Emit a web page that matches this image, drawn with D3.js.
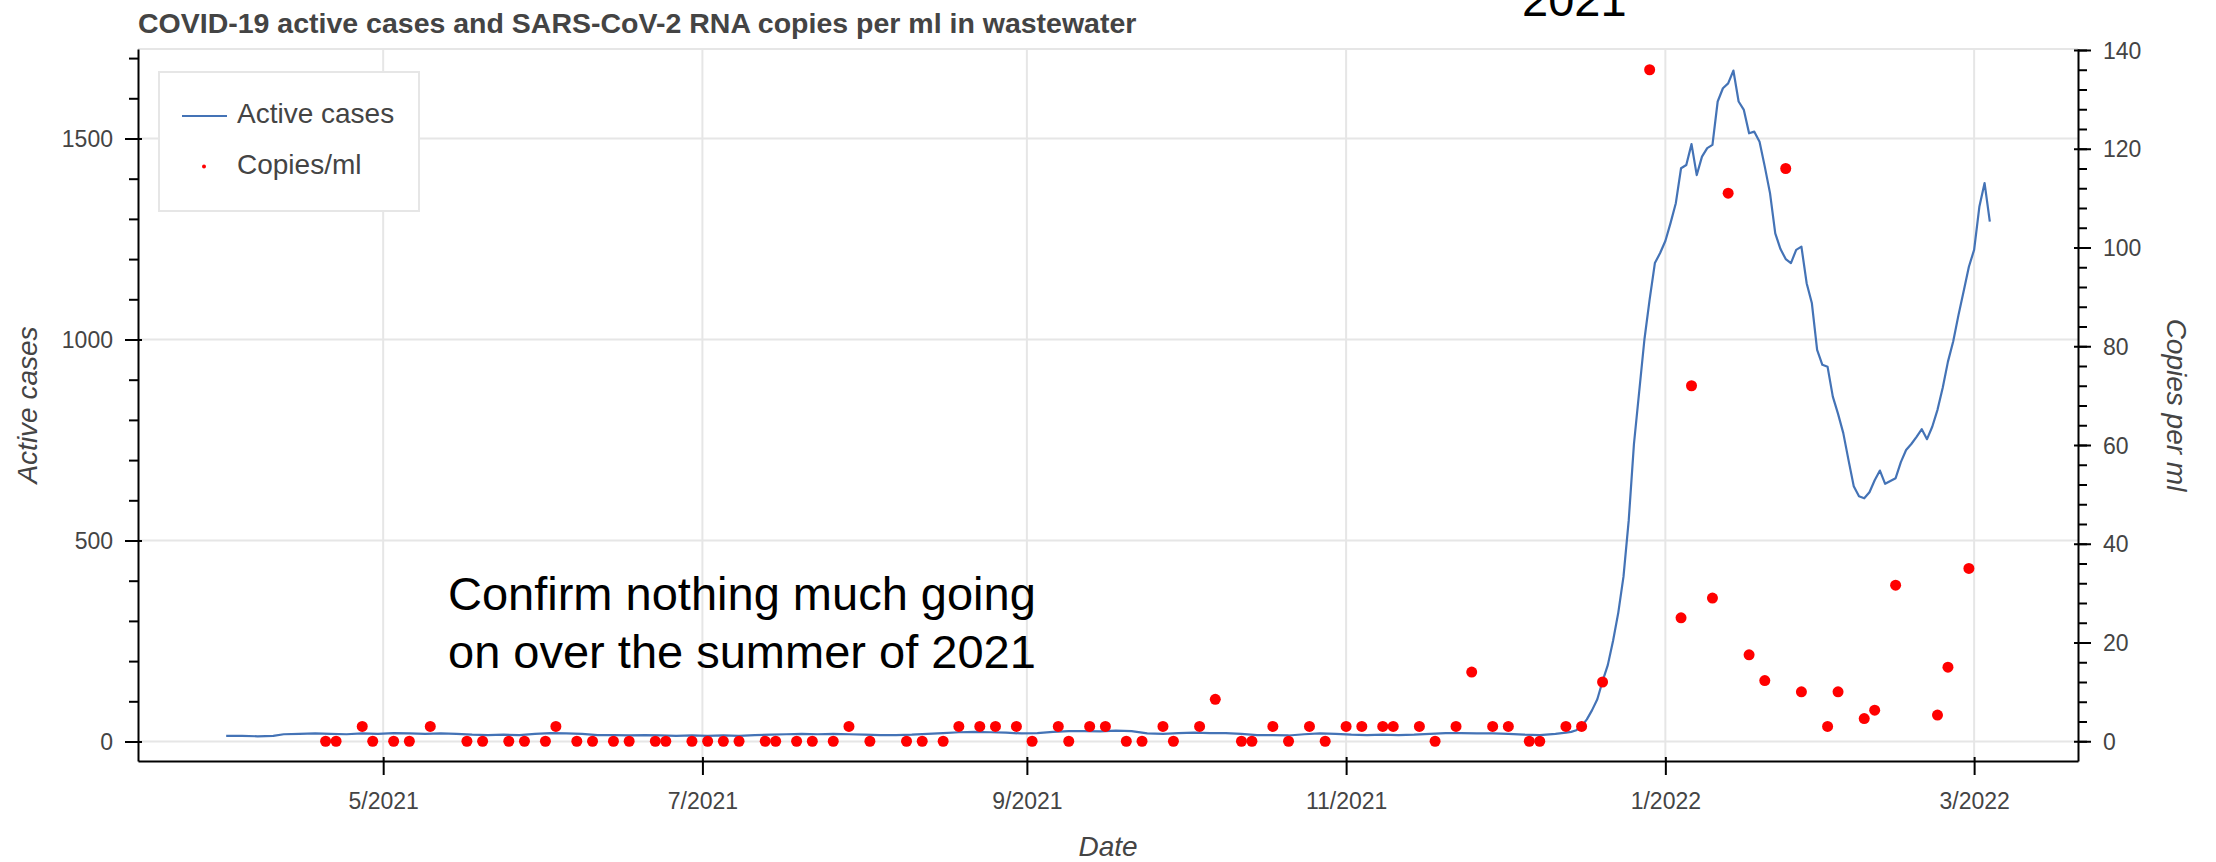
<!DOCTYPE html>
<html>
<head>
<meta charset="utf-8">
<script src="https://cdn.jsdelivr.net/npm/d3@7"></script>
<style>
  html, body { margin: 0; padding: 0; background: #fff; }
  svg { display: block; font-family: "Liberation Sans", Arial, Helvetica, sans-serif; }
</style>
</head>
<body>
<svg id="chart" width="2216" height="862"></svg>
<script>
// ---- Active cases (daily count, left axis) ----
const activeDates = [
  "2021-04-01","2021-04-04","2021-04-07","2021-04-10","2021-04-12","2021-04-15","2021-04-18","2021-04-21","2021-04-24","2021-04-27","2021-04-30",
  "2021-05-03","2021-05-06","2021-05-09","2021-05-12","2021-05-15","2021-05-18","2021-05-21","2021-05-24","2021-05-27","2021-05-30",
  "2021-06-02","2021-06-05","2021-06-08","2021-06-11","2021-06-14","2021-06-17","2021-06-20","2021-06-23","2021-06-26","2021-06-29",
  "2021-07-02","2021-07-05","2021-07-08","2021-07-11","2021-07-14","2021-07-17","2021-07-20","2021-07-23","2021-07-26","2021-07-29",
  "2021-08-01","2021-08-04","2021-08-07","2021-08-10","2021-08-13","2021-08-16","2021-08-19","2021-08-22","2021-08-25","2021-08-28","2021-08-31",
  "2021-09-03","2021-09-06","2021-09-09","2021-09-12","2021-09-15","2021-09-18","2021-09-21","2021-09-24","2021-09-27","2021-09-30",
  "2021-10-03","2021-10-06","2021-10-09","2021-10-12","2021-10-15","2021-10-18","2021-10-21","2021-10-24","2021-10-27","2021-10-30",
  "2021-11-02","2021-11-05","2021-11-08","2021-11-11","2021-11-14","2021-11-17","2021-11-20","2021-11-23","2021-11-26","2021-11-29",
  "2021-12-02","2021-12-05","2021-12-08","2021-12-11","2021-12-13","2021-12-14","2021-12-15","2021-12-16","2021-12-17","2021-12-18",
  "2021-12-19","2021-12-20","2021-12-21","2021-12-22","2021-12-23","2021-12-24","2021-12-25","2021-12-26","2021-12-27","2021-12-28",
  "2021-12-29","2021-12-30","2021-12-31",
  "2022-01-01","2022-01-02","2022-01-03","2022-01-04","2022-01-05","2022-01-06","2022-01-07","2022-01-08","2022-01-09","2022-01-10",
  "2022-01-11","2022-01-12","2022-01-13","2022-01-14","2022-01-15","2022-01-16","2022-01-17","2022-01-18","2022-01-19","2022-01-20",
  "2022-01-21","2022-01-22","2022-01-23","2022-01-24","2022-01-25","2022-01-26","2022-01-27","2022-01-28","2022-01-29","2022-01-30","2022-01-31",
  "2022-02-01","2022-02-02","2022-02-03","2022-02-04","2022-02-05","2022-02-06","2022-02-07","2022-02-08","2022-02-09","2022-02-10",
  "2022-02-11","2022-02-12","2022-02-13","2022-02-14","2022-02-15","2022-02-16","2022-02-17","2022-02-18","2022-02-19","2022-02-20",
  "2022-02-21","2022-02-22","2022-02-23","2022-02-24","2022-02-25","2022-02-26","2022-02-27","2022-02-28",
  "2022-03-01","2022-03-02","2022-03-03","2022-03-04"
];
const activeCases = [
  14,14,13,14,18,19,20,19,18,20,19,
  21,20,19,20,19,17,16,17,16,19,
  21,20,19,16,16,15,16,15,14,15,
  14,15,14,16,17,18,19,18,19,18,
  17,16,16,17,19,21,23,24,23,22,20,
  21,24,26,26,25,27,26,20,19,21,
  22,21,21,19,16,16,15,18,20,19,
  17,16,17,16,17,19,21,21,20,20,
  19,17,16,19,22,24,28,38,55,78,
  105,150,190,250,320,410,550,740,870,1000,
  1100,1190,1215,
  1245,1290,1339,1426,1434,1486,1409,1455,1476,1484,
  1592,1625,1637,1669,1592,1571,1513,1517,1492,1430,
  1364,1264,1225,1200,1190,1223,1231,1140,1090,974,937,
  932,858,815,767,700,635,610,605,620,650,
  674,641,648,655,695,725,740,758,777,752,
  783,825,880,945,995,1060,1120,1181,
  1223,1330,1389,1293
];

// ---- SARS-CoV-2 RNA in wastewater (copies/ml, right axis) ----
const sampleDates = [
  "2021-04-20","2021-04-22","2021-04-27","2021-04-29","2021-05-03","2021-05-06","2021-05-10","2021-05-17","2021-05-20","2021-05-25",
  "2021-05-28","2021-06-01","2021-06-03","2021-06-07","2021-06-10","2021-06-14","2021-06-17","2021-06-22","2021-06-24","2021-06-29",
  "2021-07-02","2021-07-05","2021-07-08","2021-07-13","2021-07-15","2021-07-19","2021-07-22","2021-07-26","2021-07-29","2021-08-02",
  "2021-08-09","2021-08-12","2021-08-16","2021-08-19","2021-08-23","2021-08-26","2021-08-30","2021-09-02","2021-09-07","2021-09-09",
  "2021-09-13","2021-09-16","2021-09-20","2021-09-23","2021-09-27","2021-09-29","2021-10-04","2021-10-07","2021-10-12","2021-10-14",
  "2021-10-18","2021-10-21","2021-10-25","2021-10-28","2021-11-01","2021-11-04","2021-11-08","2021-11-10","2021-11-15","2021-11-18",
  "2021-11-22","2021-11-25","2021-11-29","2021-12-02","2021-12-06","2021-12-08","2021-12-13","2021-12-16","2021-12-20","2021-12-29",
  "2022-01-04","2022-01-06","2022-01-10","2022-01-13","2022-01-17","2022-01-20","2022-01-24","2022-01-27","2022-02-01","2022-02-03",
  "2022-02-08","2022-02-10","2022-02-14","2022-02-22","2022-02-24","2022-02-28"
];
const copiesPerMl = [
  0,0,3,0,0,0,3,0,0,0,
  0,0,3,0,0,0,0,0,0,0,
  0,0,0,0,0,0,0,0,3,0,
  0,0,0,3,3,3,3,0,3,0,
  3,3,0,0,3,0,3,8.5,0,0,
  3,0,3,0,3,3,3,3,3,0,
  3,14,3,3,0,0,3,3,12,136,
  25,72,29,111,17.5,12.3,116,10,3,10,
  4.6,6.3,31.6,5.3,15,35
];

// ---- Axis ticks ----
const xTickLabels = ["5/2021", "7/2021", "9/2021", "11/2021", "1/2022", "3/2022"];
const leftTicks = [0, 500, 1000, 1500];
const leftMinorTicks = [0, 100, 200, 300, 400, 500, 600, 700, 800, 900, 1000, 1100, 1200, 1300, 1400, 1500, 1600, 1700];
const rightTicks = [0, 20, 40, 60, 80, 100, 120, 140];
const rightMinorTicks = d3.range(0, 141, 4);

const titleText = "COVID-19 active cases and SARS-CoV-2 RNA copies per ml in wastewater";
const noteLines = ["Confirm nothing much going", "on over the summer of 2021"];

// ---- Layout ----
const frame = { left: 138, right: 2078, top: 49, bottom: 761 };
const TEXT = "#444444";
const GRID = "#e6e6e6";
const LINE_BLUE = "#4473b6";
const TICK_FONT = 23;

const parseDay = d3.utcParse("%Y-%m-%d");
const parseMonth = d3.utcParse("%m/%Y");
const fmtMonth = d3.utcFormat("%-m/%Y");

const cases = activeDates.map((d, i) => ({ date: parseDay(d), value: activeCases[i] }));
const samples = sampleDates.map((d, i) => ({ date: parseDay(d), value: copiesPerMl[i] }));
const xTicks = xTickLabels.map(parseMonth);

// x range padded 5% on each side of the data span
const allDates = cases.map(d => d.date).concat(samples.map(d => d.date));
const [dMin, dMax] = d3.extent(allDates);
const pad = (dMax - dMin) * 0.05;
const x = d3.scaleUtc()
  .domain([new Date(+dMin - pad), new Date(+dMax + pad)])
  .range([frame.left, frame.right]);

const yL = d3.scaleLinear().domain([-48.5, 1722.6]).range([frame.bottom, frame.top]);
const yR = d3.scaleLinear().domain([-4, 140.2]).range([frame.bottom, frame.top]);

const svg = d3.select("#chart");

// Title
svg.append("text")
  .attr("x", 138).attr("y", 33)
  .attr("font-size", 28.5).attr("font-weight", "bold")
  .attr("fill", TEXT)
  .text(titleText);

// Grid
const grid = svg.append("g");
grid.selectAll("line.vx").data(xTicks).join("line")
  .attr("x1", d => x(d)).attr("x2", d => x(d))
  .attr("y1", frame.top).attr("y2", frame.bottom)
  .attr("stroke", GRID).attr("stroke-width", 2);
grid.selectAll("line.hy").data(leftTicks).join("line")
  .attr("x1", frame.left).attr("x2", frame.right)
  .attr("y1", d => yL(d)).attr("y2", d => yL(d))
  .attr("stroke", GRID).attr("stroke-width", 2);
// frame outline (top edge)
svg.append("line")
  .attr("x1", frame.left).attr("x2", frame.right)
  .attr("y1", frame.top).attr("y2", frame.top)
  .attr("stroke", GRID).attr("stroke-width", 2);

// Active cases line
svg.append("path")
  .datum(cases)
  .attr("fill", "none")
  .attr("stroke", LINE_BLUE)
  .attr("stroke-width", 2.2)
  .attr("stroke-linejoin", "round")
  .attr("d", d3.line().x(d => x(d.date)).y(d => yL(d.value)));

// Copies/ml points
svg.append("g").selectAll("circle").data(samples).join("circle")
  .attr("cx", d => x(d.date))
  .attr("cy", d => yR(d.value))
  .attr("r", 5.5)
  .attr("fill", "#ff0000");

// Axes
function styleAxis(g) {
  g.select(".domain").attr("stroke", "#000").attr("stroke-width", 2);
  g.selectAll(".tick line").attr("stroke", "#000").attr("stroke-width", 2);
  g.selectAll(".tick text")
    .attr("fill", TEXT)
    .attr("font-size", TICK_FONT)
    .attr("font-family", '"Liberation Sans", Arial, Helvetica, sans-serif');
}

// bottom
const gx = svg.append("g")
  .attr("transform", `translate(0,${frame.bottom})`)
  .call(d3.axisBottom(x).tickValues(xTicks).tickFormat(fmtMonth).tickSize(14).tickSizeOuter(0));
styleAxis(gx);
gx.selectAll(".tick line").attr("y1", -4);
gx.selectAll(".tick text").attr("y", 48).attr("dy", null);

// left minor + major
const gyLm = svg.append("g")
  .attr("transform", `translate(${frame.left},0)`)
  .call(d3.axisLeft(yL).tickValues(leftMinorTicks).tickFormat("").tickSize(9).tickSizeOuter(0));
gyLm.select(".domain").remove();
gyLm.selectAll(".tick line").attr("stroke", "#000").attr("stroke-width", 2);

const gyL = svg.append("g")
  .attr("transform", `translate(${frame.left},0)`)
  .call(d3.axisLeft(yL).tickValues(leftTicks).tickFormat(d3.format("d")).tickSize(13).tickSizeOuter(0));
styleAxis(gyL);
gyL.selectAll(".tick line").attr("x1", 4);
gyL.selectAll(".tick text").attr("x", -25).attr("dy", "0.35em");

// right minor + major
const gyRm = svg.append("g")
  .attr("transform", `translate(${frame.right},0)`)
  .call(d3.axisRight(yR).tickValues(rightMinorTicks).tickFormat("").tickSize(9).tickSizeOuter(0));
gyRm.select(".domain").remove();
gyRm.selectAll(".tick line").attr("stroke", "#000").attr("stroke-width", 2);

const gyR = svg.append("g")
  .attr("transform", `translate(${frame.right},0)`)
  .call(d3.axisRight(yR).tickValues(rightTicks).tickFormat(d3.format("d")).tickSize(13).tickSizeOuter(0));
styleAxis(gyR);
gyR.selectAll(".tick line").attr("x1", -4);
gyR.selectAll(".tick text").attr("x", 25).attr("dy", "0.35em");

// Axis titles
const midY = (frame.top + frame.bottom) / 2;
svg.append("text")
  .attr("transform", `translate(37,${midY}) rotate(-90)`)
  .attr("text-anchor", "middle")
  .attr("font-size", 28).attr("font-style", "italic").attr("fill", TEXT)
  .text("Active cases");
svg.append("text")
  .attr("transform", `translate(2167,${midY}) rotate(90)`)
  .attr("text-anchor", "middle")
  .attr("font-size", 28).attr("font-style", "italic").attr("fill", TEXT)
  .text("Copies per ml");
svg.append("text")
  .attr("x", (frame.left + frame.right) / 2).attr("y", 856)
  .attr("text-anchor", "middle")
  .attr("font-size", 28).attr("font-style", "italic").attr("fill", TEXT)
  .text("Date");

// Legend
const lg = svg.append("g");
lg.append("rect")
  .attr("x", 159).attr("y", 72).attr("width", 260).attr("height", 139)
  .attr("fill", "#fff").attr("stroke", GRID).attr("stroke-width", 2);
lg.append("line")
  .attr("x1", 182).attr("x2", 227).attr("y1", 116).attr("y2", 116)
  .attr("stroke", LINE_BLUE).attr("stroke-width", 2.2);
lg.append("text")
  .attr("x", 237).attr("y", 123)
  .attr("font-size", 28).attr("fill", TEXT)
  .text("Active cases");
lg.append("circle")
  .attr("cx", 204).attr("cy", 166.5).attr("r", 2)
  .attr("fill", "#ff0000");
lg.append("text")
  .attr("x", 237).attr("y", 174)
  .attr("font-size", 28).attr("fill", TEXT)
  .text("Copies/ml");

// Annotations
svg.append("text")
  .attr("x", 448).attr("font-size", 47).attr("fill", "#000")
  .selectAll("tspan").data(noteLines).join("tspan")
  .attr("x", 448)
  .attr("y", (d, i) => 610 + i * 58)
  .text(d => d);

svg.append("text")
  .attr("x", 1522).attr("y", 16)
  .attr("font-size", 47).attr("fill", "#000")
  .text("2021");
</script>
</body>
</html>
